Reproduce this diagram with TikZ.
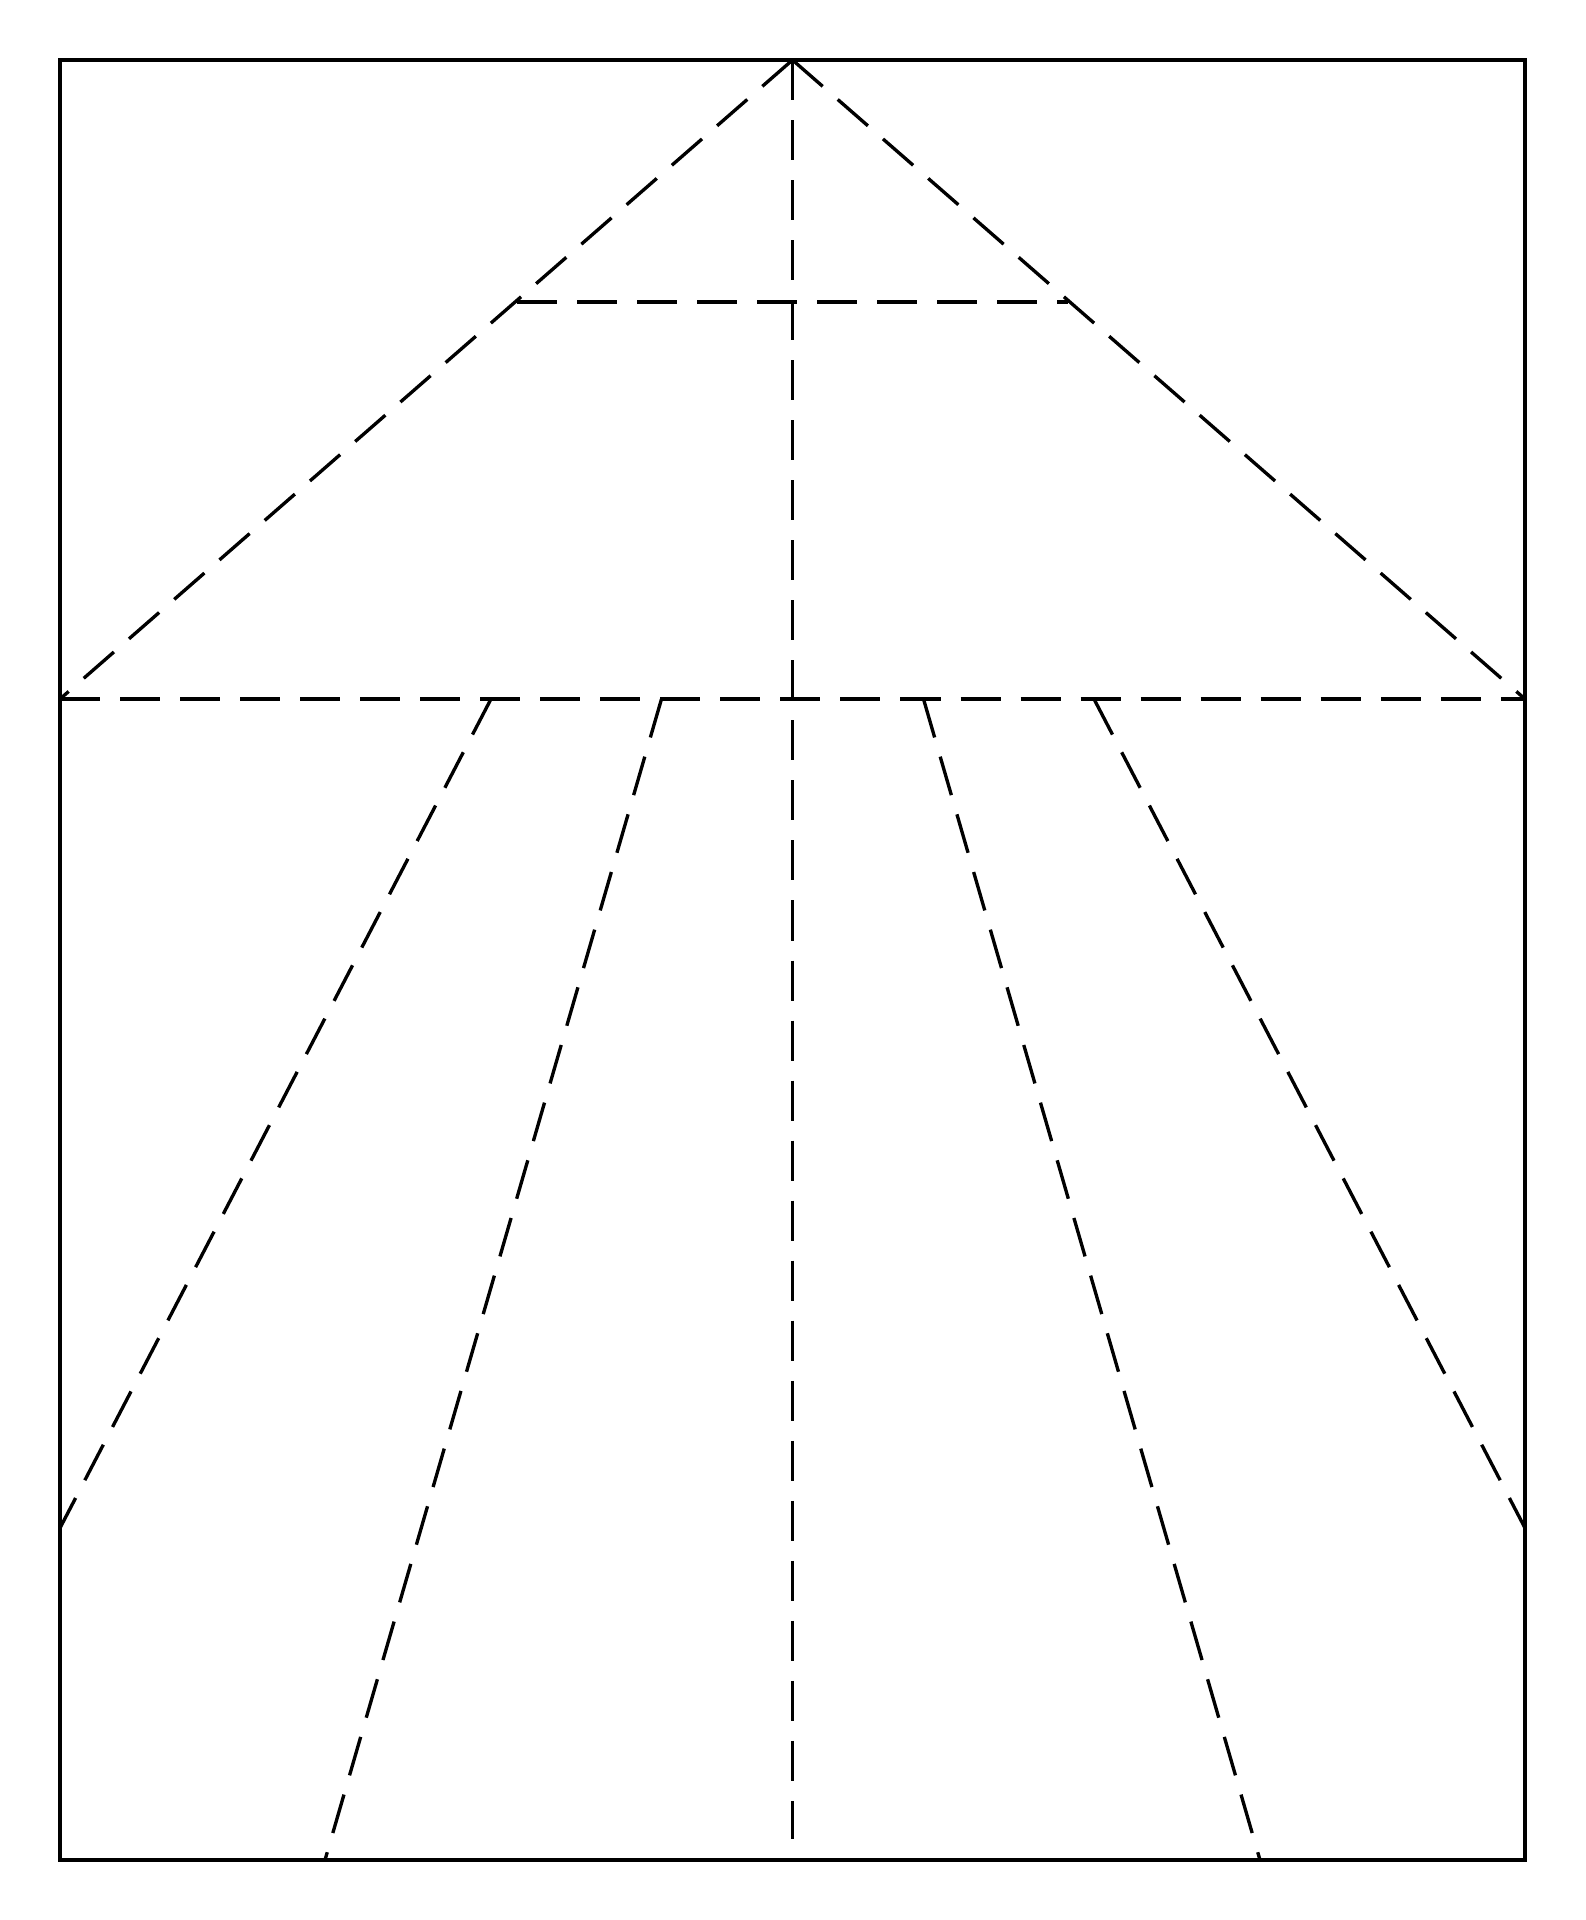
\documentclass[tikz,border=0pt]{standalone}
\usepackage{tikz}
\tikzset{
    x=0.01cm, y=-0.01cm, % one unit is one pixel of the sheet, y runs down
    frame/.style={line width=1.15pt}, % the outline of the sheet
    fold/.style={line width=0.95pt, dash pattern=on 0.4cm off 0.2cm}, % the dashed fold lines
}
\begin{document}
\begin{tikzpicture}
    \useasboundingbox (0,0) rectangle (1586,1920);
    \coordinate (tl) at (60,60);
    \coordinate (br) at (1525,1860);
    \coordinate (apex) at (792.5,60);
    \coordinate (hl) at (60,699);
    \coordinate (hr) at (1525,699);
    \coordinate (ul) at (517,302);
    \coordinate (ur) at (1068,302);
    \coordinate (mid) at (792.5,1839);
    \draw[frame] (tl) rectangle (br);
    \draw[fold] (apex) -- (hl);
    \draw[fold] (apex) -- (hr);
    \draw[fold] (apex) -- (mid);
    \draw[fold] (ul) -- (ur);
    \draw[fold] (hl) -- (hr);
    % rays below the horizontal fold
    \draw[fold] (491,699) -- (60,1528);
    \draw[fold] (661.5,699) -- (325,1860);
    \draw[fold] (923.5,699) -- (1260,1860);
    \draw[fold] (1094,699) -- (1525,1528);
\end{tikzpicture}
\end{document}
